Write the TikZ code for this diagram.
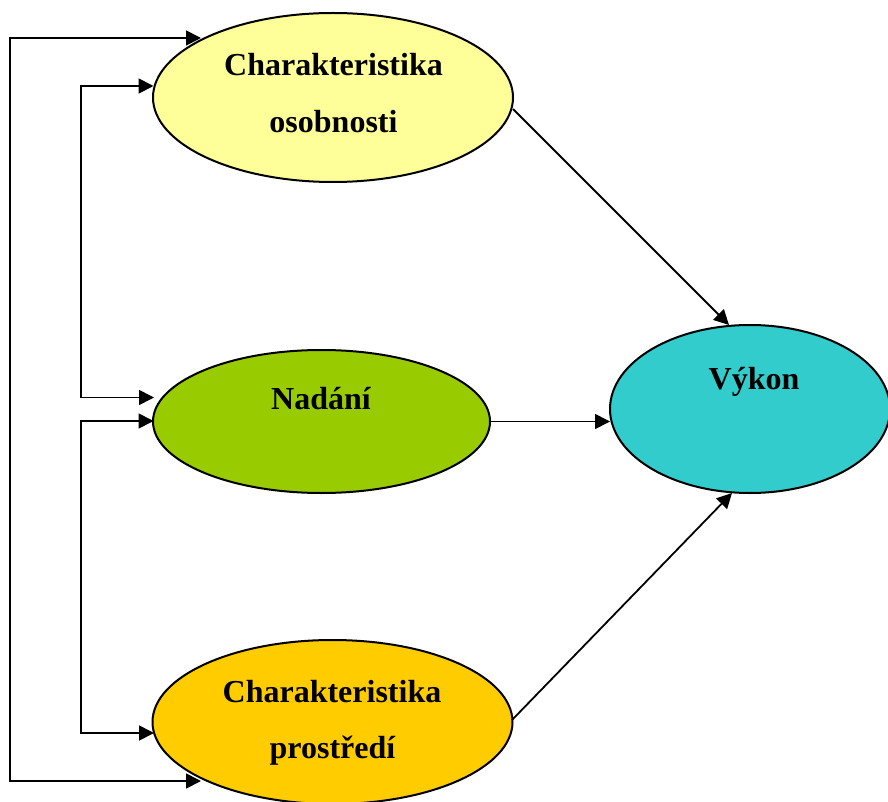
\documentclass[tikz,border=0pt]{standalone}
\usepackage{fontspec}
\setmainfont{Liberation Serif}
\usetikzlibrary{shapes.geometric,arrows.meta}
\definecolor{cyel}{HTML}{FFFF99}
\definecolor{cgrn}{HTML}{99CC00}
\definecolor{corg}{HTML}{FFCC00}
\definecolor{ccya}{HTML}{33CCCC}
\tikzset{
  blob/.style={ellipse, draw=black, line width=2pt, inner sep=0pt, outer sep=0pt},
  lbl/.style={anchor=base, font=\fontsize{32}{38}\selectfont\bfseries, inner sep=0pt},
  arr/.style={line width=1.8pt, -{Triangle[length=15pt,width=15pt]}},
  arrb/.style={line width=1.8pt, {Triangle[length=15pt,width=15pt]}-{Triangle[length=15pt,width=15pt]}},
}
\begin{document}
\begin{tikzpicture}[x=1pt,y=-1pt]
\useasboundingbox (0,0) rectangle (888,802);
\begin{scope}
\clip (0,0) rectangle (888,802);
\node[blob, fill=cyel, minimum width=360pt, minimum height=169pt] (Y) at (333,97.5) {};
\node[blob, fill=cgrn, minimum width=337pt, minimum height=143pt] (G) at (321.5,421.5) {};
\node[blob, fill=corg, minimum width=360pt, minimum height=164pt] (O) at (332.5,722) {};
\node[blob, fill=ccya, minimum width=280pt, minimum height=168pt] (C) at (750,409) {};
\end{scope}
\node[lbl] (ty1) at (333.5,76) {Charakteristika};
\node[lbl] (ty2) at (333.5,133) {osobnosti};
\node[lbl] (tg) at (321,409) {Nadání};
\node[lbl] (tc) at (754,389) {Výkon};
\node[lbl] (to1) at (332,702) {Charakteristika};
\node[lbl] (to2) at (332.5,758) {prostředí};
% corner coordinates
\coordinate (o1) at (10,38);
\coordinate (o2) at (10,781);
\coordinate (a1) at (81,86);
\coordinate (a2) at (81,397.5);
\coordinate (b1) at (81,421);
\coordinate (b2) at (81,733);
% tips on ellipses
\coordinate (tYo) at (201,38);
\coordinate (tOo) at (201,781);
\coordinate (tYi) at (153.5,86);
\coordinate (tGi1) at (154,397.5);
\coordinate (tGi2) at (153.5,421);
\coordinate (tOi) at (154,733);
\coordinate (sY) at (513,109);
\coordinate (eC1) at (729,325);
\coordinate (sO) at (512,720);
\coordinate (eC2) at (732,493);
\coordinate (sG) at (490,421.5);
\coordinate (eC3) at (610,421.5);
\draw[arrb] (tYo) -- (o1) -- (o2) -- (tOo);
\draw[arrb] (tYi) -- (a1) -- (a2) -- (tGi1);
\draw[arrb] (tGi2) -- (b1) -- (b2) -- (tOi);
\draw[arr] (sY) -- (eC1);
\draw[arr] (sG) -- (eC3);
\draw[arr] (sO) -- (eC2);
\end{tikzpicture}
\end{document}
